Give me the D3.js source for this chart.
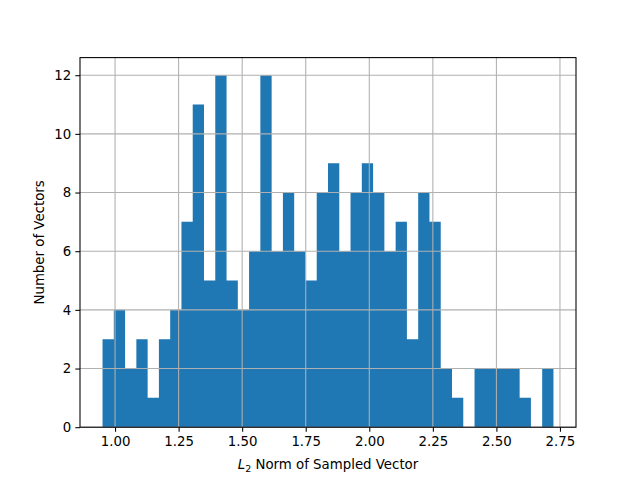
<!DOCTYPE html>
<html>
<head>
<meta charset="utf-8">
<script src="https://cdn.jsdelivr.net/npm/d3@7"></script>
<style>
  body { margin: 0; background: #fff; }
  text { font-family: 'DejaVu Sans', sans-serif; }
</style>
</head>
<body>
<script>
// histogram counts, 40 equal bins between dataMin and dataMax
let counts = [3, 4, 2, 3, 1, 3, 4, 7, 11, 5, 12, 5, 4, 6, 12, 6, 8, 6, 5, 8,
  9, 6, 8, 9, 8, 6, 7, 3, 8, 7, 2, 1, 0, 2, 2, 2, 2, 1, 0, 2]
let dataMin = 0.9508
let dataMax = 2.7244
let xTicks = [1.0, 1.25, 1.5, 1.75, 2.0, 2.25, 2.5, 2.75]
let yTicks = [0, 2, 4, 6, 8, 10, 12]

// measurements (matplotlib default figure layout)
let m = {
  width: 640,
  height: 480,
  left: 80,
  right: 576,
  top: 57.6,
  bottom: 427.2,
}

let svg = d3.select('body')
  .append('svg')
  .attr('width', m.width)
  .attr('height', m.height)

let binW = (dataMax - dataMin) / counts.length
let bins = counts.map(function(c, i) {
  return { x0: dataMin + i * binW, x1: dataMin + (i + 1) * binW, n: c }
})

let pad = 0.05 * (dataMax - dataMin)
let xScale = d3.scaleLinear()
  .domain([dataMin - pad, dataMax + pad])
  .range([m.left, m.right])

let yMax = d3.max(counts)
let yScale = d3.scaleLinear()
  .domain([0, yMax * 1.05])
  .range([m.bottom, m.top])

// bars drawn as one stepped outline so neighbouring bins leave no seams
let barPath = d3.path()
barPath.moveTo(xScale(bins[0].x0), yScale(0))
bins.forEach(function(d) {
  barPath.lineTo(xScale(d.x0), yScale(d.n))
  barPath.lineTo(xScale(d.x1), yScale(d.n))
})
barPath.lineTo(xScale(bins[bins.length - 1].x1), yScale(0))
barPath.closePath()
svg.append('path')
  .attr('d', barPath.toString())
  .attr('fill', '#1f77b4')

// grid lines (drawn above the bars, like matplotlib)
let grid = svg.append('g')
grid.selectAll('.vg')
  .data(xTicks)
  .enter()
  .append('line')
    .attr('x1', function(d) { return xScale(d) })
    .attr('x2', function(d) { return xScale(d) })
    .attr('y1', m.top)
    .attr('y2', m.bottom)
    .attr('stroke', '#b0b0b0')
    .attr('stroke-width', 1.07)
grid.selectAll('.hg')
  .data(yTicks)
  .enter()
  .append('line')
    .attr('x1', m.left)
    .attr('x2', m.right)
    .attr('y1', function(d) { return yScale(d) })
    .attr('y2', function(d) { return yScale(d) })
    .attr('stroke', '#b0b0b0')
    .attr('stroke-width', 1.07)

// axes
let xAxis = d3.axisBottom(xScale)
  .tickValues(xTicks)
  .tickFormat(d3.format('.2f'))
  .tickSize(4.67)
  .tickPadding(4.2)
let yAxis = d3.axisLeft(yScale)
  .tickValues(yTicks)
  .tickFormat(d3.format('d'))
  .tickSize(4.67)
  .tickPadding(4.2)

let gx = svg.append('g')
  .attr('transform', 'translate(0,' + m.bottom + ')')
  .call(xAxis)
let gy = svg.append('g')
  .attr('transform', 'translate(' + m.left + ',0)')
  .call(yAxis)

;[gx, gy].forEach(function(g) {
  g.select('.domain').remove()
  g.selectAll('line').attr('stroke', '#000').attr('stroke-width', 1.07)
  g.selectAll('text')
    .attr('fill', '#000')
    .style('font-size', '13.33px')
    .style('font-family', 'DejaVu Sans')
})

// spines
svg.append('rect')
  .attr('x', m.left)
  .attr('y', m.top)
  .attr('width', m.right - m.left)
  .attr('height', m.bottom - m.top)
  .attr('fill', 'none')
  .attr('stroke', '#000')
  .attr('stroke-width', 1.07)

// axis labels
let xl = svg.append('text')
  .attr('x', (m.left + m.right) / 2)
  .attr('y', 469)
  .attr('text-anchor', 'middle')
  .style('font-size', '13.33px')
xl.append('tspan').style('font-style', 'italic').text('L')
xl.append('tspan').attr('dy', 3).style('font-size', '9.5px').text('2')
xl.append('tspan').attr('dy', -3).text(' Norm of Sampled Vector')

svg.append('text')
  .attr('transform', 'translate(44,' + ((m.top + m.bottom) / 2) + ') rotate(-90)')
  .attr('text-anchor', 'middle')
  .style('font-size', '13.33px')
  .text('Number of Vectors')
</script>
</body>
</html>
